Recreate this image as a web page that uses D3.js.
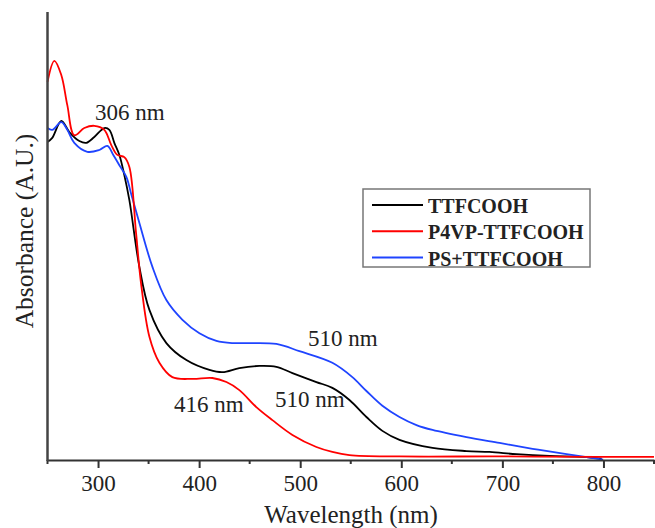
<!DOCTYPE html>
<html>
<head>
<meta charset="utf-8">
<script src="https://cdn.jsdelivr.net/npm/d3@7"></script>
<style>
  html, body { margin: 0; padding: 0; background: #fff; }
  svg { display: block; }
  text { font-family: "Liberation Serif", "Times New Roman", serif; fill: #222; }
</style>
</head>
<body>
<svg id="chart" width="655" height="528"></svg>
<script>
// UV-Vis absorption spectra (arbitrary units, normalised to the plot height)
const ttfWavelength = [250, 254.7, 263.7, 271.6, 281.5, 288.4, 296.3, 306.2, 311.2, 316.1, 321.1, 326, 331, 340.9, 350.8, 367.6, 387.4, 410.2, 423.1, 439.8, 459.6, 476.4, 492.3, 516, 531.8, 548.7, 565.5, 581.3, 598.2, 630.9, 664.5, 687.3, 714, 746.7, 779.4, 798.2];
const ttfAbs = [0.710, 0.719, 0.757, 0.732, 0.712, 0.708, 0.721, 0.741, 0.737, 0.708, 0.681, 0.636, 0.580, 0.431, 0.335, 0.261, 0.223, 0.201, 0.196, 0.205, 0.210, 0.208, 0.194, 0.174, 0.161, 0.134, 0.096, 0.065, 0.045, 0.027, 0.020, 0.018, 0.013, 0.009, 0.007, 0.003];

const p4vpWavelength = [250, 256.8, 263.7, 269.6, 276.5, 286.4, 296.3, 306.2, 313.1, 319.1, 326, 331, 337.6, 342.5, 350.8, 360.7, 373.5, 393.3, 413.1, 427, 439.8, 456.6, 472.5, 492.3, 516, 531.8, 548.7, 598.2, 697, 796, 850];
const p4vpAbs = [0.844, 0.891, 0.859, 0.792, 0.725, 0.741, 0.746, 0.737, 0.703, 0.681, 0.676, 0.654, 0.507, 0.395, 0.275, 0.217, 0.185, 0.181, 0.183, 0.174, 0.156, 0.118, 0.089, 0.056, 0.029, 0.018, 0.011, 0.008, 0.008, 0.007, 0.007];

const psWavelength = [250, 254.7, 263.7, 269.6, 276.5, 289.4, 301.3, 309.2, 315.1, 321.1, 328, 333, 340.9, 353.8, 367.6, 383.5, 400.3, 417.1, 432.9, 449.7, 476.4, 499.2, 531.8, 551.6, 565.5, 581.3, 598.2, 615, 630.9, 664.5, 697.2, 729.9, 763.5, 799.7];
const psAbs = [0.741, 0.737, 0.754, 0.737, 0.708, 0.688, 0.692, 0.701, 0.681, 0.658, 0.632, 0.592, 0.529, 0.431, 0.357, 0.313, 0.283, 0.266, 0.261, 0.261, 0.259, 0.243, 0.217, 0.185, 0.154, 0.121, 0.096, 0.078, 0.067, 0.051, 0.038, 0.025, 0.013, 0.001];

const seriesNames = ["TTFCOOH", "P4VP-TTFCOOH", "PS+TTFCOOH"];
const seriesColors = ["#000000", "#ff0000", "#1f44ff"];

const xTicks = [300, 400, 500, 600, 700, 800];
const xMinorTicks = [250, 350, 450, 550, 650, 750, 850];

// Peak annotations
const peakLabels = ["306 nm", "416 nm", "510 nm", "510 nm"];

const svg = d3.select("#chart");
const x = d3.scaleLinear().domain([250, 850]).range([47.5, 654]);
const y = d3.scaleLinear().domain([0, 1]).range([460, 12]);

const series = [
  { xs: ttfWavelength, ys: ttfAbs },
  { xs: p4vpWavelength, ys: p4vpAbs },
  { xs: psWavelength, ys: psAbs }
];

const line = d3.line()
  .x(d => x(d[0]))
  .y(d => y(d[1]))
  .curve(d3.curveCatmullRom.alpha(0.5));

// Draw order: black, blue, red on top
[0, 2, 1].forEach(i => {
  const pts = series[i].xs.map((w, k) => [w, series[i].ys[k]]);
  svg.append("path")
    .attr("d", line(pts))
    .attr("fill", "none")
    .attr("stroke", seriesColors[i])
    .attr("stroke-width", 1.8)
    .attr("stroke-linejoin", "round");
});

// x axis with major and minor ticks
const axisG = svg.append("g").attr("transform", `translate(0,${y(0)})`);
axisG.call(d3.axisBottom(x).tickValues(xTicks).tickSize(8).tickSizeOuter(0).tickPadding(7).tickFormat(d3.format("d")));
axisG.selectAll(".tick text")
  .attr("font-size", 23)
  .style("font-family", '"Liberation Serif", "Times New Roman", serif')
  .attr("fill", "#222");
axisG.select(".domain").attr("stroke", "#333").attr("stroke-width", 2);
axisG.selectAll(".tick line").attr("stroke", "#333").attr("stroke-width", 2);
axisG.selectAll(".minor").data(xMinorTicks).enter().append("line")
  .attr("class", "minor")
  .attr("x1", d => x(d)).attr("x2", d => x(d))
  .attr("y1", 0).attr("y2", 4)
  .attr("stroke", "#333").attr("stroke-width", 2);

// y axis: plain line, no ticks
svg.append("line")
  .attr("x1", x(250)).attr("x2", x(250))
  .attr("y1", y(1)).attr("y2", y(0) + 1)
  .attr("stroke", "#444").attr("stroke-width", 2.5);

// Axis titles
svg.append("text")
  .attr("x", 351).attr("y", 523)
  .attr("text-anchor", "middle")
  .attr("font-size", 25)
  .text("Wavelength (nm)");

svg.append("text")
  .attr("transform", "translate(33,231) rotate(-90)")
  .attr("text-anchor", "middle")
  .attr("font-size", 25.5)
  .text("Absorbance (A.U.)");

// Peak annotations
const labelPos = [[95, 120], [174, 412], [275, 407], [308, 346]];
peakLabels.forEach((t, i) => {
  svg.append("text")
    .attr("x", labelPos[i][0]).attr("y", labelPos[i][1])
    .attr("font-size", 23)
    .text(t);
});

// Legend
const lg = svg.append("g").attr("transform", "translate(363,189)");
lg.append("rect")
  .attr("x", 0).attr("y", 0).attr("width", 227).attr("height", 78)
  .attr("fill", "#fff").attr("stroke", "#777").attr("stroke-width", 1.5);
seriesNames.forEach((name, i) => {
  const cy = 16 + i * 26.3;
  lg.append("line")
    .attr("x1", 9).attr("x2", 60).attr("y1", cy).attr("y2", cy)
    .attr("stroke", seriesColors[i]).attr("stroke-width", 2);
  lg.append("text")
    .attr("x", 65).attr("y", cy + 8)
    .attr("font-size", 20).attr("font-weight", "bold")
    .attr("fill", "#111")
    .text(name);
});
</script>
</body>
</html>
